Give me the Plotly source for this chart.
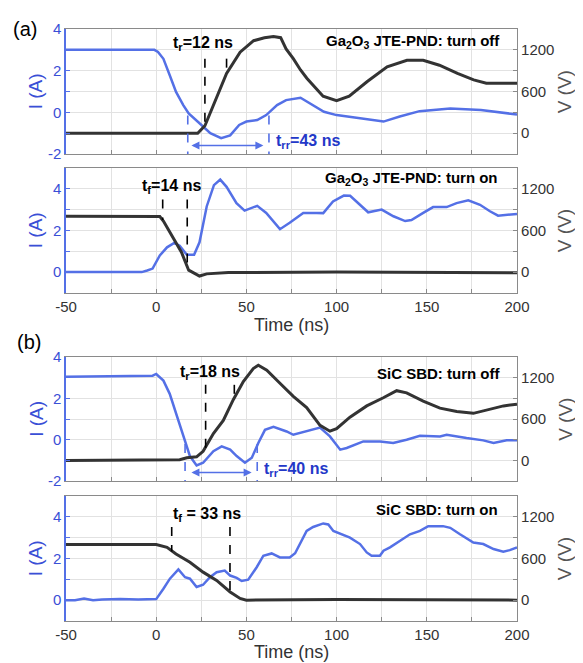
import plotly.graph_objects as go

# ---- data ----
# (a) Ga2O3 JTE-PND, turn off
a_off_tI = [-50, -1, 1, 4, 7.5, 11, 15, 18, 24, 30, 36, 41, 46, 50, 56, 61, 67, 72, 80, 85, 93, 100, 113, 126, 135, 146, 163, 180, 200]
a_off_I = [3.0, 3.0, 2.9, 2.57, 1.78, 0.98, 0.35, -0.05, -0.52, -1.0, -1.24, -1.1, -0.6, -0.44, -0.37, -0.13, 0.35, 0.59, 0.7, 0.43, 0.03, -0.13, -0.29, -0.44, -0.2, 0.06, 0.19, 0.11, -0.1]
a_off_tV = [-50, 23, 27, 32, 39, 46.5, 54, 60, 65, 69, 72, 76, 80, 83.5, 92.5, 100, 107, 117, 128, 139, 148, 157, 167, 176, 183, 200]
a_off_V = [0, 0, 108, 414, 861, 1167, 1332, 1375, 1393, 1375, 1214, 1073, 910, 791, 532, 470, 532, 744, 956, 1049, 1049, 979, 861, 767, 720, 720]

# (a) Ga2O3 JTE-PND, turn on
a_on_tI = [-50, -8, -5, -2, 2, 6, 10, 13, 17, 21, 24, 28, 32, 35.5, 39, 44.5, 49, 56, 61, 68.6, 74, 81.5, 89, 92.6, 98, 104, 107.5,
           113, 117.5, 125, 131.5, 138, 141.5, 148, 153.5, 161, 166.5, 173, 179.5, 185, 189.5, 200]
a_on_I = [0, 0, 0.08, 0.17, 0.8, 1.19, 1.4, 1.27, 0.83, 0.83, 1.43, 3.15, 4.17, 4.44, 4.09, 3.31, 2.95, 3.18, 2.84, 2.06, 2.37, 2.84,
          2.84, 2.83, 3.39, 3.67, 3.66, 3.23, 2.87, 3.0, 2.68, 2.45, 2.5, 2.84, 3.12, 3.12, 3.31, 3.44, 3.23, 2.92, 2.71, 2.79]
a_on_tV = [-50, 2, 4, 9.5, 14, 18, 21, 24, 28, 40, 100, 200]
a_on_V = [805, 800, 734, 499, 287, 28, -20, -56, -25, -5, 0, -10]

# (b) SiC SBD, turn off
b_off_tI = [-50, -2, 0, 4, 7.5, 11, 15, 18.7, 22.4, 26, 31.7, 36.3, 41, 44.6, 49.2, 53, 56.6, 60.3, 65, 72.3, 76, 83.4, 90.8, 96.3,
            102, 105.6, 114.8, 124, 131.4, 138.8, 146.2, 157.3, 161, 172, 181.3, 187, 194.3, 200]
b_off_I = [3.05, 3.1, 3.18, 2.86, 2.22, 1.27, 0.16, -0.79, -1.24, -1.11, -0.55, -0.32, -0.48, -0.79, -1.11, -0.87, -0.16, 0.48, 0.63,
           0.4, 0.24, 0.4, 0.59, 0.16, -0.48, -0.4, -0.08, -0.08, -0.16, 0.0, 0.19, 0.16, 0.24, 0.08, -0.03, -0.16, -0.03, -0.03]
b_off_tV = [-50, 13, 17, 22.4, 26, 31.7, 37.2, 42.8, 48.3, 53.8, 56.6, 61.3, 68.6, 76, 83.4, 90.8, 96.3, 100, 107.4, 116.7, 125.9,
            133.3, 138.8, 148, 157.3, 166.6, 175.8, 183.2, 192.5, 200]
b_off_V = [0, 10, 38, 52, 132, 391, 579, 885, 1144, 1333, 1380, 1309, 1120, 930, 768, 508, 424, 462, 627, 791, 909,
           1012, 980, 861, 758, 711, 683, 730, 791, 815]

# (b) SiC SBD, turn on
b_on_tI = [-50, -45, -40, -35, -30, -20, -10, 0, 4, 7.6, 12.3, 16, 18.7, 22.4, 26, 29.8, 33.5, 38, 41, 44.6, 47.4, 51, 55.7, 59.4,
           64, 68.6, 74, 77, 83.4, 87, 92.6, 95.4, 98.2, 102, 107.4, 113, 116.7, 119.4, 124, 126, 129.6, 135, 140.7, 146.2,
           150.8, 159, 163, 168.4, 175.8, 181.3, 187, 192.4, 196, 200]
b_on_I = [0, 0.0, 0.08, 0.0, 0.03, 0.05, 0.03, 0.05, 0.55, 1.03, 1.47, 1.1, 1.03, 0.63, 0.74, 1.1, 1.34, 1.42, 1.18, 1.07, 0.92, 0.98,
          1.58, 2.13, 2.24, 2.05, 2.05, 2.25, 3.32, 3.51, 3.68, 3.63, 3.32, 3.19, 3.0, 2.69, 2.29, 2.13, 2.13, 2.37, 2.53, 2.84,
          3.16, 3.32, 3.55, 3.55, 3.47, 3.16, 2.76, 2.69, 2.45, 2.32, 2.4, 2.53]
b_on_tV = [-50, 0, 6, 11, 18.7, 26, 33.5, 41, 46.5, 50, 100, 200]
b_on_V = [800, 800, 759, 664, 545, 403, 285, 118, 24, 0, 10, 0]

# timing markers (ns) and marker tops / bottoms (V)
a_off_tr = [27, 39]
a_off_tr_V = [[1073, 108], [1073, 861]]
a_off_trr = [17.5, 62.5]
a_on_tf = [3.6, 17.2]
a_on_tf_V = [[1045, 750], [1045, 28]]
b_off_tr = [27.4, 43.3]
b_off_tr_V = [[1097, 109], [1097, 909]]
b_off_trr = [16, 56]
b_on_tf = [8.6, 40.9]
b_on_tf_V = [[1053, 700], [1053, 118]]

x_ticks = [-50, -25, 0, 25, 50, 75, 100, 125, 150, 175, 200]
v_ticks = [0, 300, 600, 900, 1200]

BLUE = "#5470e6"
BLUE_TXT = "#3a4fd6"
DARK = "#333333"
FRAME = "#8a8a8a"
GRID = "#e2e2e2"
FONT = "Arial, Liberation Sans, sans-serif"

fig = go.Figure()

domains = [[0.7887, 1.0], [0.5541, 0.7654], [0.2363, 0.4459], [0.0, 0.2113]]
i_ranges = [[-2, 4], [-1, 5], [-2, 4], [-1, 5]]
panels = [
    (a_off_tI, a_off_I, a_off_tV, a_off_V),
    (a_on_tI, a_on_I, a_on_tV, a_on_V),
    (b_off_tI, b_off_I, b_off_tV, b_off_V),
    (b_on_tI, b_on_I, b_on_tV, b_on_V),
]


def note(text, x, y, size, color, **kw):
    fig.add_annotation(text=text, xref="paper", yref="paper", x=x, y=y,
                       xanchor="center", yanchor="middle", showarrow=False,
                       font=dict(size=size, color=color, family=FONT), **kw)


for k, (tI, I, tV, V) in enumerate(panels):
    n = k + 1
    xa = "x" if n == 1 else f"x{n}"
    yl = "y" if n == 1 else f"y{2 * n - 1}"
    yr = f"y{2 * n}"
    fig.add_trace(go.Scatter(x=tI, y=I, mode="lines", xaxis=xa, yaxis=yl,
                             line=dict(color=BLUE, width=2.5), showlegend=False))
    fig.add_trace(go.Scatter(x=tV, y=V, mode="lines", xaxis=xa, yaxis=yr,
                             line=dict(color=DARK, width=3), showlegend=False))

    lo, hi = i_ranges[k]
    ivals = list(range(lo, hi + 1))
    itext = [str(v) if v % 2 == 0 and v != 5 else "" for v in ivals]
    show_x = n in (2, 4)
    fig.layout[f"xaxis{'' if n == 1 else n}"] = dict(
        domain=[0, 1], anchor=yl, range=[-50, 200],
        tickvals=x_ticks, ticktext=[str(v) if v % 50 == 0 else "" for v in x_ticks],
        showticklabels=show_x, ticks="inside", ticklen=4, tickcolor=FRAME,
        showline=True, linecolor=FRAME, linewidth=1.2, mirror=True,
        showgrid=True, gridcolor=GRID, zeroline=False,
        tickfont=dict(size=15, color=DARK, family=FONT),
    )
    fig.layout[f"yaxis{'' if n == 1 else 2 * n - 1}"] = dict(
        domain=domains[k], anchor=xa, range=[lo, hi],
        tickvals=ivals, ticktext=itext, ticks="inside", ticklen=4, tickcolor=BLUE,
        showline=True, linecolor=BLUE, linewidth=1.5,
        showgrid=True, gridcolor=GRID, zeroline=False,
        tickfont=dict(size=15, color=BLUE_TXT, family=FONT),
    )
    fig.layout[f"yaxis{2 * n}"] = dict(
        overlaying=yl, side="right", anchor=xa, range=[-300, 1500],
        tickvals=v_ticks, ticktext=[str(v) if v % 600 == 0 else "" for v in v_ticks],
        ticks="inside", ticklen=4, tickcolor=FRAME,
        showline=True, linecolor=FRAME, linewidth=1.2,
        showgrid=False, zeroline=False,
        tickfont=dict(size=15, color=DARK, family=FONT),
    )
    mid = (domains[k][0] + domains[k][1]) / 2
    note("I (A)", -0.067, mid, 19, BLUE_TXT, textangle=-90)
    note("V (V)", 1.106, mid, 19, "#555555", textangle=-90)


def vdash(n, t, v0, v1, color, yref_side="right"):
    xa = "x" if n == 1 else f"x{n}"
    yr = f"y{2 * n}" if yref_side == "right" else ("y" if n == 1 else f"y{2 * n - 1}")
    fig.add_shape(type="line", xref=xa, yref=yr, x0=t, x1=t, y0=v0, y1=v1,
                  line=dict(color=color, width=1.6, dash="dash"))


for t, (v0, v1) in zip(a_off_tr, a_off_tr_V):
    vdash(1, t, v0, v1, "black")
for t, (v0, v1) in zip(a_on_tf, a_on_tf_V):
    vdash(2, t, v0, v1, "black")
for t, (v0, v1) in zip(b_off_tr, b_off_tr_V):
    vdash(3, t, v0, v1, "black")
for t, (v0, v1) in zip(b_on_tf, b_on_tf_V):
    vdash(4, t, v0, v1, "black")
for t in a_off_trr:
    vdash(1, t, -0.15, -2, BLUE, "left")
for t in b_off_trr:
    vdash(3, t, -0.2, -2, BLUE, "left")

# double arrows for t_rr
for n, (t0, t1), yv in [(1, (18.7, 59.4), -1.59), (3, (18.7, 52.9), -1.58)]:
    xa = "x" if n == 1 else f"x{n}"
    yl = "y" if n == 1 else f"y{2 * n - 1}"
    fig.add_annotation(x=t1, y=yv, ax=t0, ay=yv, xref=xa, yref=yl, axref=xa, ayref=yl,
                       text="", showarrow=True, arrowhead=2, arrowside="end+start",
                       arrowsize=1, arrowwidth=1.6, arrowcolor=BLUE)


def label(n, text, xf, yf, color="black", size=15, anchor="center"):
    xa = "x" if n == 1 else f"x{n}"
    yl = "y" if n == 1 else f"y{2 * n - 1}"
    fig.add_annotation(text=text, xref=f"{xa} domain", yref=f"{yl} domain", x=xf, y=yf,
                       xanchor=anchor, yanchor="middle", showarrow=False,
                       font=dict(size=size, color=color, family=FONT))


label(1, "<b>Ga<sub>2</sub>O<sub>3</sub> JTE-PND: turn off</b>", 0.967, 0.898, anchor="right")
label(2, "<b>Ga<sub>2</sub>O<sub>3</sub> JTE-PND: turn on</b>", 0.962, 0.913, anchor="right")
label(3, "<b>SiC SBD: turn off</b>", 0.967, 0.865, anchor="right")
label(4, "<b>SiC SBD: turn on</b>", 0.962, 0.89, anchor="right")
label(1, "<b>t<sub>r</sub>=12 ns</b>", 0.304, 0.882, size=16)
label(2, "<b>t<sub>f</sub>=14 ns</b>", 0.235, 0.85, size=16)
label(3, "<b>t<sub>r</sub>=18 ns</b>", 0.319, 0.873, size=16)
label(4, "<b>t<sub>f</sub> = 33 ns</b>", 0.3126, 0.85, size=16)
label(1, "<b>t<sub>rr</sub>=43 ns</b>", 0.537, 0.102, color="#2338c8", size=16)
label(3, "<b>t<sub>rr</sub>=40 ns</b>", 0.51, 0.095, color="#2338c8", size=16)

note("Time (ns)", 0.501, 0.5008, 18, DARK)
note("Time (ns)", 0.501, -0.0516, 18, DARK)
note("(a)", -0.091, 1.0, 20, "black")
note("(b)", -0.082, 0.471, 20, "black")

# the page body adds an 8 px margin, so the figure is shrunk by that amount
fig.update_layout(
    width=575, height=655,
    margin=dict(l=58, r=66, t=12, b=42),
    paper_bgcolor="white", plot_bgcolor="white",
    font=dict(family=FONT),
)
fig.write_html("out.html")
